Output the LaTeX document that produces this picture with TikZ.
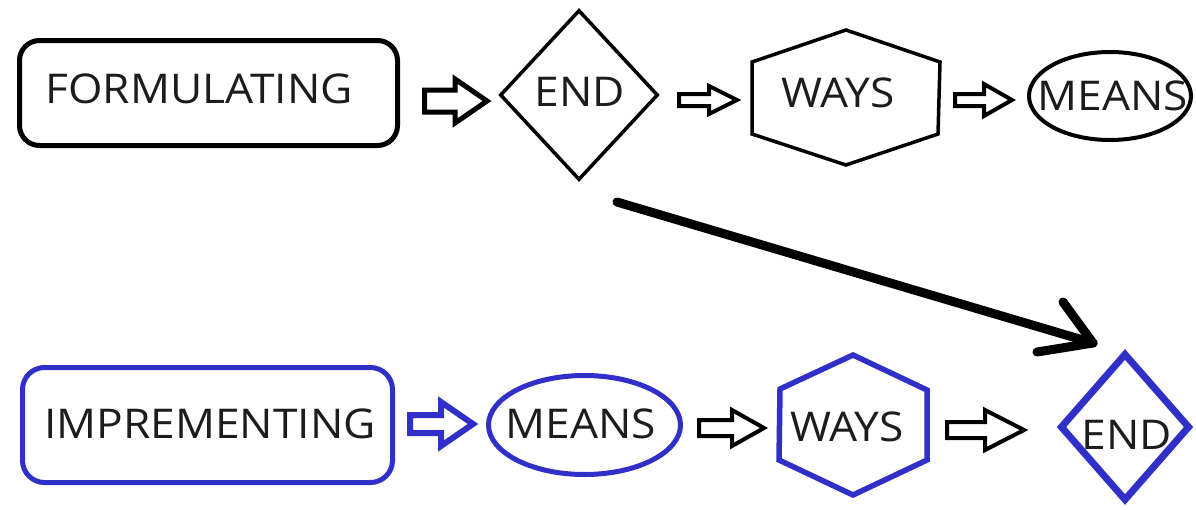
\documentclass[tikz,border=0pt]{standalone}
\usepackage{fontspec}
\setmainfont{Open Sans}[FakeStretch=1.08]
\usetikzlibrary{shapes.geometric,calc}
\definecolor{myblue}{RGB}{48,48,200}
\definecolor{txt}{RGB}{28,28,28}
\begin{document}
\begin{tikzpicture}[x=1pt,y=-1pt,
  lbl/.style={font=\fontsize{41}{48}\selectfont, text=txt, inner sep=0pt},
  harrow/.style n args={3}{to path={let \p1=(\tikztostart), \p2=(\tikztotarget) in
    (\x1,\y1+#1pt) -- (\x2-#3pt,\y1+#1pt) -- (\x2-#3pt,\y1+#2pt) -- (\x2,\y1)
    -- (\x2-#3pt,\y1-#2pt) -- (\x2-#3pt,\y1-#1pt) -- (\x1,\y1-#1pt) -- cycle}},
  boxshape/.style={draw, rounded corners=20pt, inner sep=0pt},
  ellshape/.style={draw, ellipse, inner sep=0pt},
  diashape/.style={draw, diamond, inner sep=0pt}]
\useasboundingbox (0,0) rectangle (1196,509);

% ---- top row (formulating) ----
\node[boxshape, line width=5pt, minimum width=378pt, minimum height=105pt] (form) at (208.5,93) {};
\node[lbl] (tform) at (199,89) {FORMULATING};
\node[diashape, line width=3.5pt, minimum width=158pt, minimum height=170pt] (end1) at (579,95) {};
\node[lbl] (tend1) at (580,92) {END};
\coordinate (ways1) at (846,97);
\draw[line width=3.5pt] ([shift={(-94,-35)}]ways1) -- ([shift={(0,-67)}]ways1)
  -- ([shift={(94,-35)}]ways1) -- ([shift={(92,37)}]ways1)
  -- ([shift={(0,68)}]ways1) -- ([shift={(-94,37)}]ways1) -- cycle;
\node[lbl] (tways1) at (838,93) {WAYS};
\node[ellshape, line width=4pt, minimum width=162pt, minimum height=88pt] (means1) at (1110,96) {};
\node[lbl] (tmeans1) at (1113,96) {MEANS};

\coordinate (a1s) at (424.5,101);
\coordinate (a1e) at (487,101);
\coordinate (a2s) at (679,100);
\coordinate (a2e) at (737,100);
\coordinate (a3s) at (955,100);
\coordinate (a3e) at (1012,100);
\draw[line width=5pt, harrow={11}{22}{32}] (a1s) to (a1e);
\draw[line width=4pt, harrow={6}{14}{28}] (a2s) to (a2e);
\draw[line width=4pt, harrow={6}{16}{28}] (a3s) to (a3e);

% ---- bottom row (implementing) ----
\node[boxshape, draw=myblue, line width=5pt, minimum width=370pt, minimum height=115pt, rounded corners=22pt] (impl) at (207.5,425) {};
\node[lbl] (timpl) at (210,424) {IMPREMENTING};
\node[ellshape, draw=myblue, line width=5pt, minimum width=192pt, minimum height=99pt] (means2) at (584.5,425) {};
\node[lbl] (tmeans2) at (581,424) {MEANS};
\coordinate (ways2) at (853,425);
\draw[myblue, line width=5.5pt] ([shift={(-73,-36)}]ways2) -- ([shift={(0,-70)}]ways2)
  -- ([shift={(74,-35)}]ways2) -- ([shift={(74,35)}]ways2)
  -- ([shift={(0,70)}]ways2) -- ([shift={(-74,35)}]ways2) -- cycle;
\node[lbl] (tways2) at (847,427) {WAYS};
\node[diashape, draw=myblue, line width=7pt, minimum width=130pt, minimum height=148pt] (end2) at (1125,427) {};
\node[lbl] (tend2) at (1127,435) {END};

\coordinate (b1s) at (410,424);
\coordinate (b1e) at (473,424);
\coordinate (b2s) at (699,428);
\coordinate (b2e) at (764,428);
\coordinate (b3s) at (947,430);
\coordinate (b3e) at (1024,430);
\draw[myblue, line width=6pt, harrow={9}{22}{32}] (b1s) to (b1e);
\draw[line width=4pt, harrow={8}{18}{32}] (b2s) to (b2e);
\draw[line width=4pt, harrow={8}{20}{39}] (b3s) to (b3e);

% ---- long arrow from END to END ----
\coordinate (ls) at (617,202);
\coordinate (le) at (1093,343);
\draw[line width=9pt, line cap=round, line join=round] (ls) -- (le);
\draw[line width=9pt, line cap=round, line join=round] ($(le)+(-30,-41)$) -- (le) -- ($(le)+(-56,9)$);
\end{tikzpicture}
\end{document}
